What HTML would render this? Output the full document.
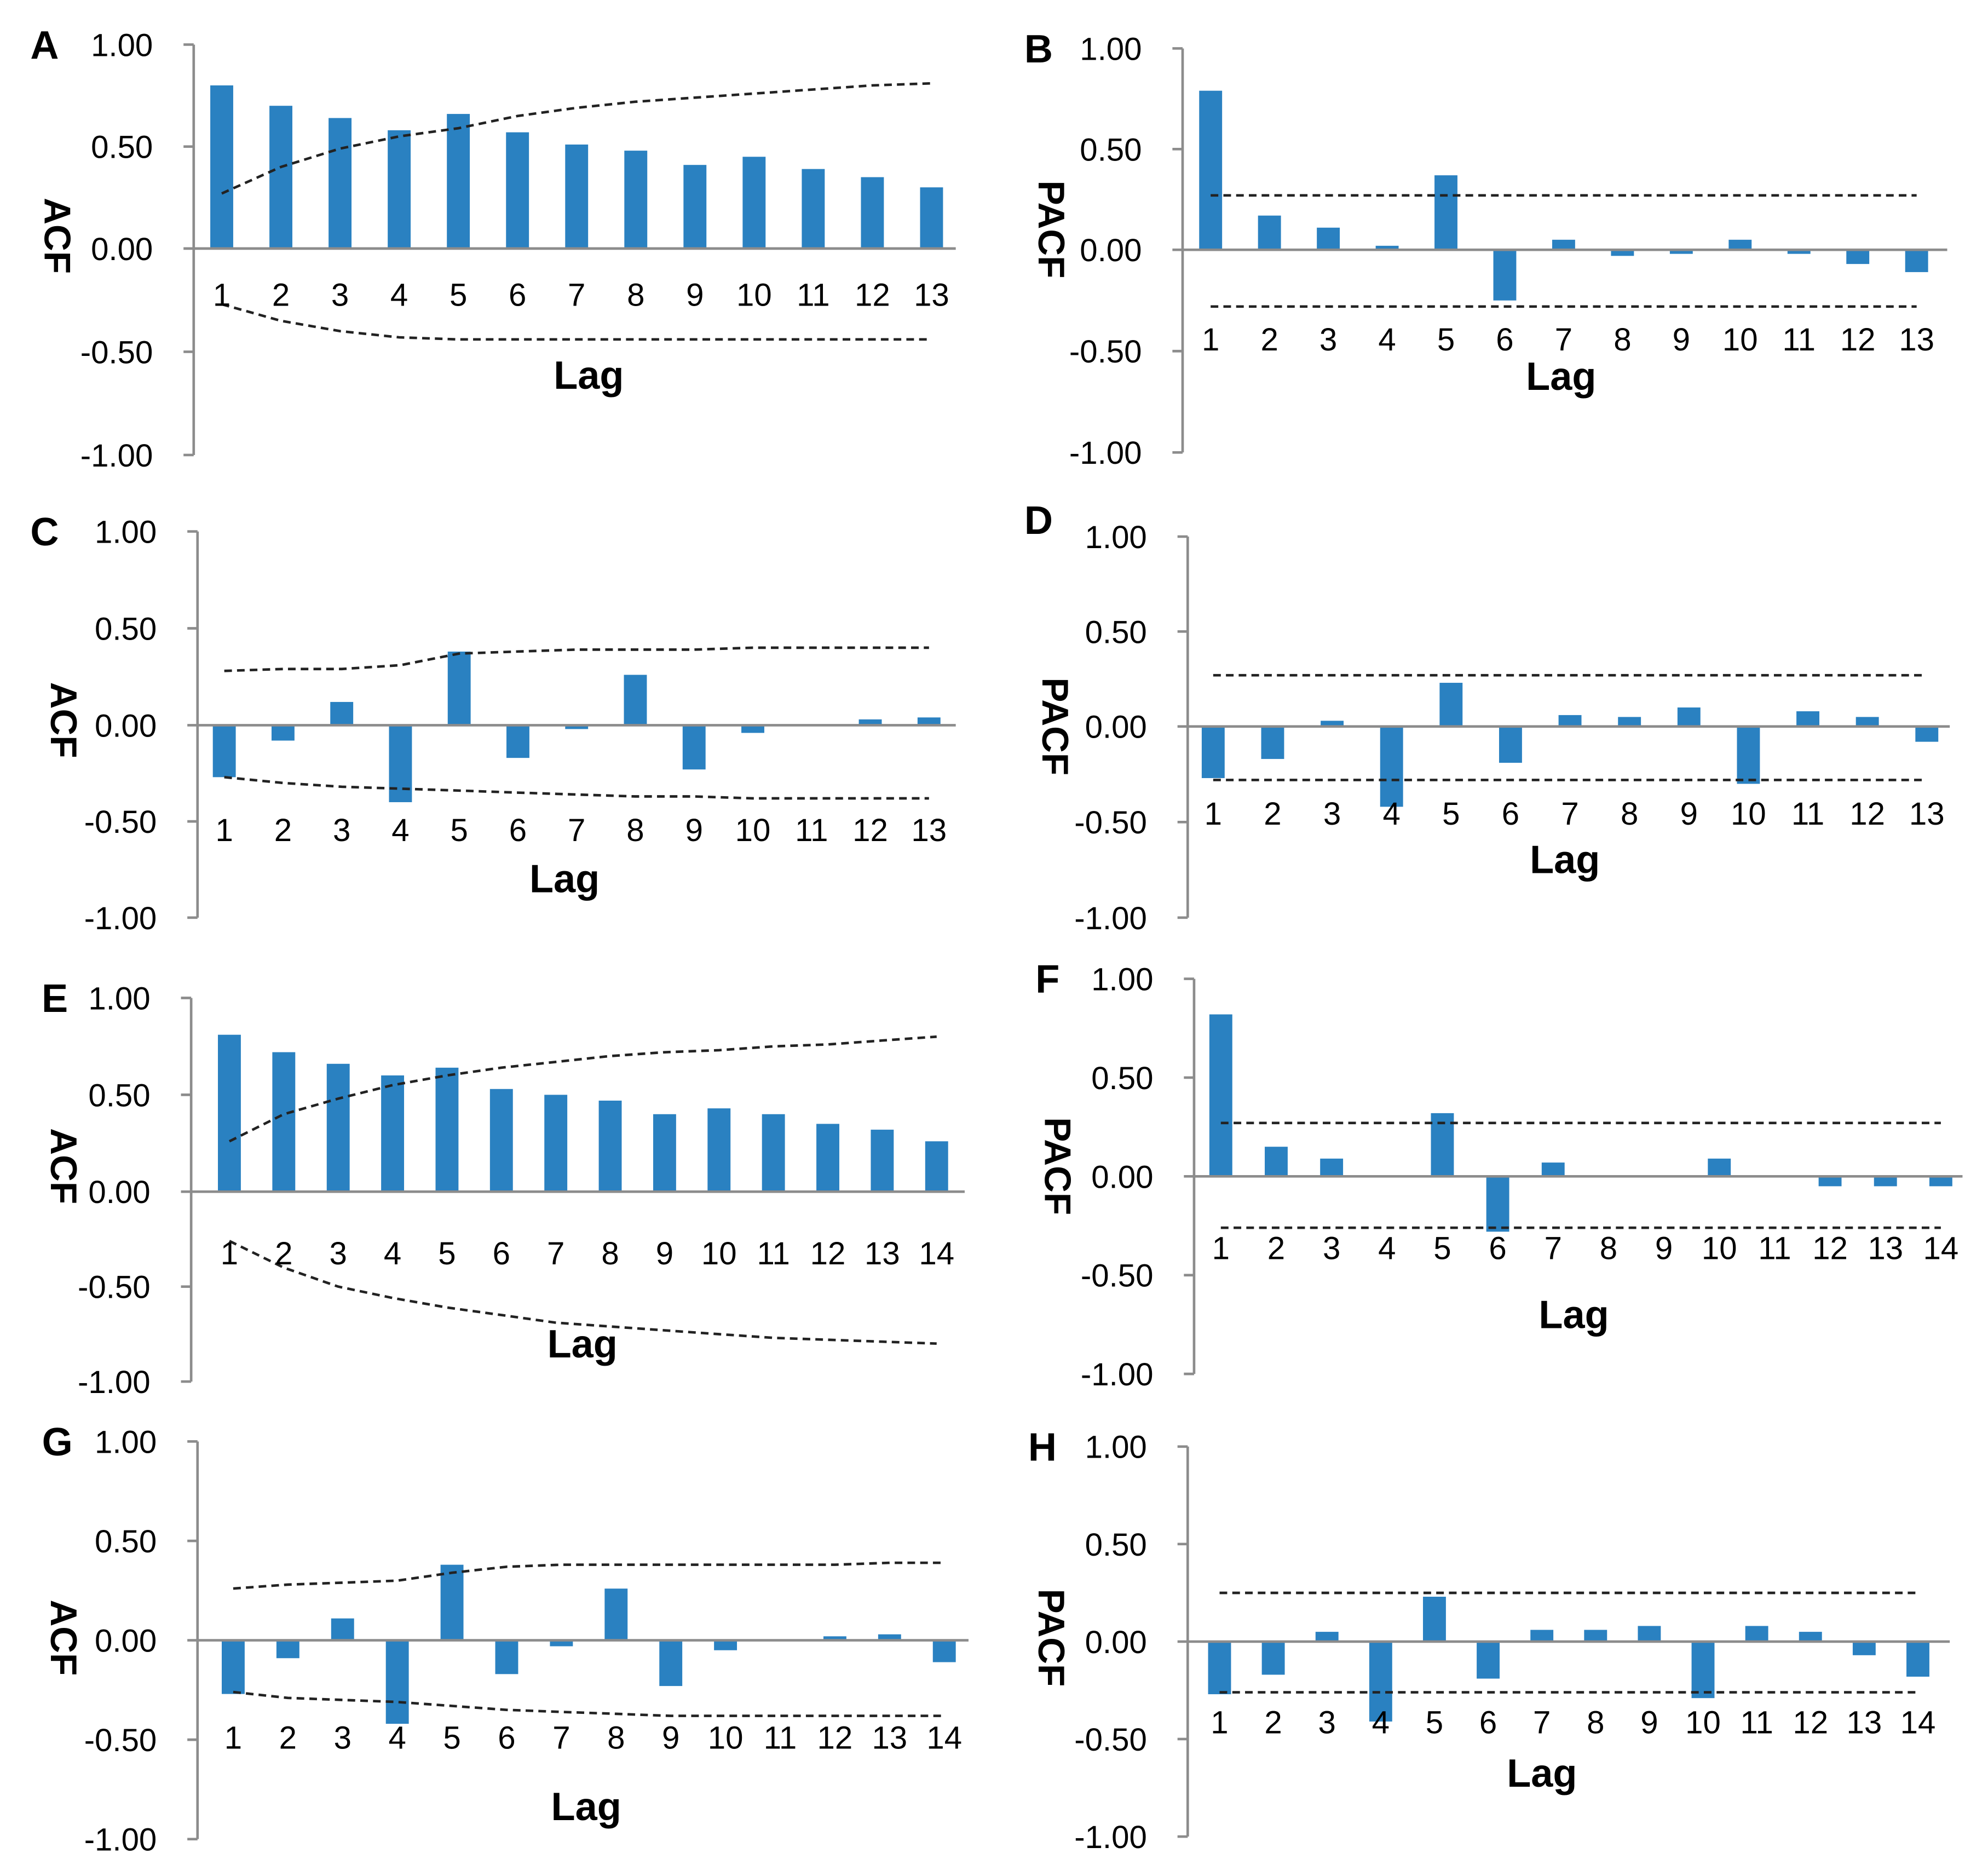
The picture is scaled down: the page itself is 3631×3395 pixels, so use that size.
<!DOCTYPE html>
<html><head><meta charset="utf-8"><style>
html,body{margin:0;padding:0;background:#fff;}
svg{display:block;}
text{font-family:"Liberation Sans",Arial,sans-serif;}
</style></head>
<body>
<svg id="chart" width="3631" height="3395" viewBox="0 0 1560 1458.6" xmlns="http://www.w3.org/2000/svg"></svg>
<script>
// ---- data ----
const lagsA = [1,2,3,4,5,6,7,8,9,10,11,12,13];
const lagsE = [1,2,3,4,5,6,7,8,9,10,11,12,13,14];
const yTicks = [1.00, 0.50, 0.00, -0.50, -1.00];
const yTickLabels = ["1.00","0.50","0.00","-0.50","-1.00"];

const valuesA = [0.80,0.70,0.64,0.58,0.66,0.57,0.51,0.48,0.41,0.45,0.39,0.35,0.30];
const upperA = [0.27,0.40,0.49,0.55,0.59,0.65,0.69,0.72,0.74,0.76,0.78,0.80,0.81];
const lowerA = [-0.27,-0.35,-0.40,-0.43,-0.44,-0.44,-0.44,-0.44,-0.44,-0.44,-0.44,-0.44,-0.44];

const valuesB = [0.79,0.17,0.11,0.02,0.37,-0.25,0.05,-0.03,-0.02,0.05,-0.02,-0.07,-0.11];
const upperB = [0.27,0.27,0.27,0.27,0.27,0.27,0.27,0.27,0.27,0.27,0.27,0.27,0.27];
const lowerB = [-0.28,-0.28,-0.28,-0.28,-0.28,-0.28,-0.28,-0.28,-0.28,-0.28,-0.28,-0.28,-0.28];

const valuesC = [-0.27,-0.08,0.12,-0.40,0.38,-0.17,-0.02,0.26,-0.23,-0.04,0.00,0.03,0.04];
const upperC = [0.28,0.29,0.29,0.31,0.37,0.38,0.39,0.39,0.39,0.40,0.40,0.40,0.40];
const lowerC = [-0.27,-0.30,-0.32,-0.33,-0.34,-0.35,-0.36,-0.37,-0.37,-0.38,-0.38,-0.38,-0.38];

const valuesD = [-0.27,-0.17,0.03,-0.42,0.23,-0.19,0.06,0.05,0.10,-0.30,0.08,0.05,-0.08];
const upperD = [0.27,0.27,0.27,0.27,0.27,0.27,0.27,0.27,0.27,0.27,0.27,0.27,0.27];
const lowerD = [-0.28,-0.28,-0.28,-0.28,-0.28,-0.28,-0.28,-0.28,-0.28,-0.28,-0.28,-0.28,-0.28];

const valuesE = [0.81,0.72,0.66,0.60,0.64,0.53,0.50,0.47,0.40,0.43,0.40,0.35,0.32,0.26];
const upperE = [0.26,0.40,0.48,0.55,0.60,0.64,0.67,0.70,0.72,0.73,0.75,0.76,0.78,0.80];
const lowerE = [-0.26,-0.40,-0.50,-0.56,-0.61,-0.65,-0.69,-0.71,-0.73,-0.75,-0.77,-0.78,-0.79,-0.80];

const valuesF = [0.82,0.15,0.09,0.00,0.32,-0.28,0.07,0.00,0.00,0.09,0.00,-0.05,-0.05,-0.05];
const upperF = [0.27,0.27,0.27,0.27,0.27,0.27,0.27,0.27,0.27,0.27,0.27,0.27,0.27,0.27];
const lowerF = [-0.26,-0.26,-0.26,-0.26,-0.26,-0.26,-0.26,-0.26,-0.26,-0.26,-0.26,-0.26,-0.26,-0.26];

const valuesG = [-0.27,-0.09,0.11,-0.42,0.38,-0.17,-0.03,0.26,-0.23,-0.05,0.00,0.02,0.03,-0.11];
const upperG = [0.26,0.28,0.29,0.30,0.34,0.37,0.38,0.38,0.38,0.38,0.38,0.38,0.39,0.39];
const lowerG = [-0.26,-0.29,-0.30,-0.31,-0.33,-0.35,-0.36,-0.37,-0.38,-0.38,-0.38,-0.38,-0.38,-0.38];

const valuesH = [-0.27,-0.17,0.05,-0.41,0.23,-0.19,0.06,0.06,0.08,-0.29,0.08,0.05,-0.07,-0.18];
const upperH = [0.25,0.25,0.25,0.25,0.25,0.25,0.25,0.25,0.25,0.25,0.25,0.25,0.25,0.25];
const lowerH = [-0.26,-0.26,-0.26,-0.26,-0.26,-0.26,-0.26,-0.26,-0.26,-0.26,-0.26,-0.26,-0.26,-0.26];

// ---- layout (geometry only) ----
const panels = [
 {id:"a",letter:"A",ylab:"ACF",lags:lagsA,vals:valuesA,up:upperA,lo:lowerA,ax:152,yTop:35,y0:195,yBot:357,x1:174,xN:731,xEnd:750,tickY:240,lagX:462,lagY:305,ylX:35,ylY:185,letX:35,letY:46},
 {id:"b",letter:"B",ylab:"PACF",lags:lagsA,vals:valuesB,up:upperB,lo:lowerB,ax:928,yTop:38,y0:196,yBot:355,x1:950,xN:1504,xEnd:1528,tickY:275,lagX:1225,lagY:306,ylX:815,ylY:180,letX:815,letY:49},
 {id:"c",letter:"C",ylab:"ACF",lags:lagsA,vals:valuesC,up:upperC,lo:lowerC,ax:155,yTop:417,y0:569,yBot:720,x1:176,xN:729,xEnd:750,tickY:660,lagX:443,lagY:700,ylX:40,ylY:565,letX:35,letY:428},
 {id:"d",letter:"D",ylab:"PACF",lags:lagsA,vals:valuesD,up:upperD,lo:lowerD,ax:932,yTop:421,y0:570,yBot:720,x1:952,xN:1512,xEnd:1530,tickY:647,lagX:1228,lagY:685,ylX:818,ylY:570,letX:815,letY:419},
 {id:"e",letter:"E",ylab:"ACF",lags:lagsE,vals:valuesE,up:upperE,lo:lowerE,ax:150,yTop:783,y0:935,yBot:1084,x1:180,xN:735,xEnd:757,tickY:992,lagX:457,lagY:1065,ylX:40,ylY:915,letX:43,letY:794},
 {id:"f",letter:"F",ylab:"PACF",lags:lagsE,vals:valuesF,up:upperF,lo:lowerF,ax:937,yTop:768,y0:923,yBot:1078,x1:958,xN:1523,xEnd:1540,tickY:988,lagX:1235,lagY:1042,ylX:820,ylY:915,letX:822,letY:779},
 {id:"g",letter:"G",ylab:"ACF",lags:lagsE,vals:valuesG,up:upperG,lo:lowerG,ax:155,yTop:1131,y0:1287,yBot:1443,x1:183,xN:741,xEnd:760,tickY:1372,lagX:460,lagY:1428,ylX:40,ylY:1285,letX:45,letY:1142},
 {id:"h",letter:"H",ylab:"PACF",lags:lagsE,vals:valuesH,up:upperH,lo:lowerH,ax:932,yTop:1135,y0:1288,yBot:1441,x1:957,xN:1505,xEnd:1530,tickY:1360,lagX:1210,lagY:1402,ylX:815,ylY:1285,letX:818,letY:1146}
];

const NS = "http://www.w3.org/2000/svg";
const svg = document.getElementById("chart");
function mk(tag, attrs, parent){
  const e = document.createElementNS(NS, tag);
  for (const k in attrs) e.setAttribute(k, attrs[k]);
  (parent||svg).appendChild(e);
  return e;
}

panels.forEach(p => {
  const g = mk("g", {});
  
  
  const yScale = v => v >= 0 ? p.y0 - v * (p.y0 - p.yTop) : p.y0 + (-v) * (p.yBot - p.y0);
  const n = p.lags.length;
  const xScale = i => p.x1 + i * (p.xN - p.x1) / (n - 1);

  const yax = mk("line", {x1:p.ax, y1:p.yTop, x2:p.ax, y2:p.yBot, stroke:"#8c8c8c", "stroke-width":2}, g);
  
  
  yTicks.forEach((t, k) => {
    const yy = yScale(t);
    const tk = mk("line", {x1:p.ax-8, y1:yy, x2:p.ax, y2:yy, stroke:"#8c8c8c", "stroke-width":2}, g);
    
    
    const tl = mk("text", {x:p.ax-32, y:yy+9, "text-anchor":"end", "font-size":25, fill:"#000"}, g);
    tl.textContent = yTickLabels[k];
    
    
  });

  p.vals.forEach((v, i) => {
    const x = xScale(i);
    const y = yScale(v);
    const r = mk("rect", {x:x-9, y:Math.min(y, p.y0), width:18, height:Math.max(Math.abs(y - p.y0), 0.5), fill:"#2a81c1"}, g);
    
    
  });

  const xax = mk("line", {x1:p.ax, y1:p.y0, x2:p.xEnd, y2:p.y0, stroke:"#8c8c8c", "stroke-width":2}, g);
  
  

  [p.up, p.lo].forEach((arr, bi) => {
    const pts = arr.map((v, i) => xScale(i).toFixed(1) + "," + yScale(v).toFixed(1)).join(" ");
    const pl = mk("polyline", {points:pts, fill:"none", stroke:"#222", "stroke-width":2, "stroke-dasharray":"6 4"}, g);
    
    
  });

  p.lags.forEach((l, i) => {
    const t = mk("text", {x:xScale(i), y:p.tickY, "text-anchor":"middle", "font-size":25, fill:"#000"}, g);
    t.textContent = l;
    
    
  });

  const lt = mk("text", {x:p.lagX, y:p.lagY, "text-anchor":"middle", "font-size":31, "font-weight":"bold", fill:"#000"}, g);
  lt.textContent = "Lag";
  
  

  const yt = mk("text", {x:p.ylX, y:p.ylY, "text-anchor":"middle", "font-size":29, "font-weight":"bold", fill:"#000", transform:"rotate(90 " + p.ylX + " " + p.ylY + ")"}, g);
  yt.textContent = p.ylab;
  
  

  const le = mk("text", {x:p.letX, y:p.letY, "text-anchor":"middle", "font-size":31, "font-weight":"bold", fill:"#000"}, g);
  le.textContent = p.letter;
  
  
});
</script>
</body></html>
